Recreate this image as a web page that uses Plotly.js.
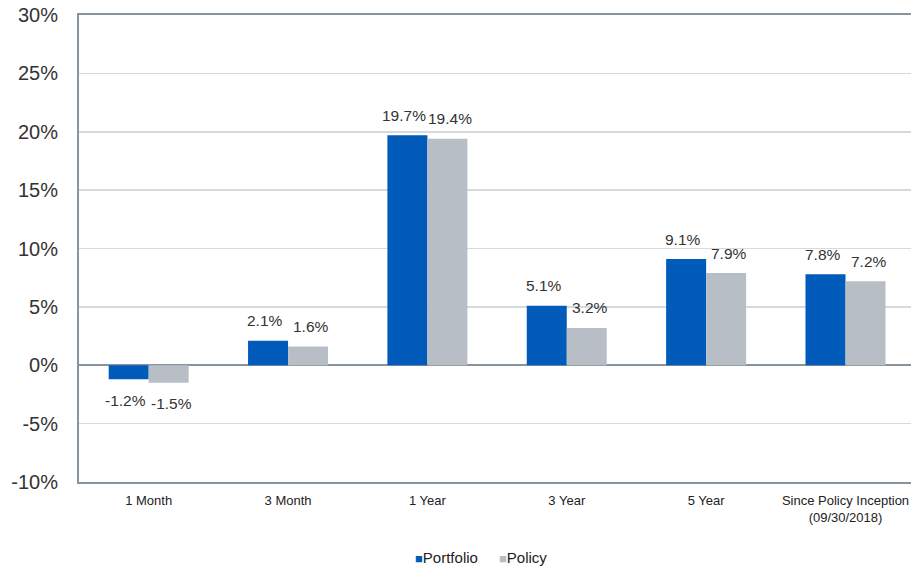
<!DOCTYPE html>
<html>
<head>
<meta charset="utf-8">
<script src="https://cdn.plot.ly/plotly-3.0.1.min.js"></script>
<style>html,body{margin:0;padding:0;background:#fff;}#chart{width:911px;height:569px;}</style>
</head>
<body>
<div id="chart"></div>
<script>
const categories = ["1 Month", "3 Month", "1 Year", "3 Year", "5 Year", "Since Policy Inception<br>(09/30/2018)"];
const seriesNames = ["Portfolio", "Policy"];
const portfolio = [-1.2, 2.1, 19.7, 5.1, 9.1, 7.8];
const policy = [-1.5, 1.6, 19.4, 3.2, 7.9, 7.2];
const yTickVals = [-10, -5, 0, 5, 10, 15, 20, 25, 30];
const yTickText = ["-10%", "-5%", "0%", "5%", "10%", "15%", "20%", "25%", "30%"];
const colors = ["#005BBB", "#B8BEC5"];

const seriesData = [portfolio, policy];
const traces = seriesData.map((vals, i) => ({
  type: "bar", name: seriesNames[i], x: categories, y: vals,
  marker: {color: colors[i]}, hoverinfo: "skip", showlegend: false
}));

// data labels as annotations above/below bar ends
const labelFont = {family: "Liberation Sans, Arial, sans-serif", size: 15.5, color: "#333333"};
const annotations = [];
seriesData.forEach((vals, i) => {
  vals.forEach((v, j) => {
    annotations.push({
      x: categories[j], y: v, xref: "x", yref: "y",
      text: v.toFixed(1) + "%", showarrow: false,
      font: labelFont, xanchor: "center", yanchor: "middle",
      xshift: (i === 0 ? -23 : 23), yshift: v >= 0 ? 20 : -21
    });
  });
});
// custom legend
const legendX = [0.401, 0.502];
seriesNames.forEach((n, i) => {
  annotations.push({
    xref: "paper", yref: "paper", x: legendX[i], y: -0.1606, xanchor: "left", yanchor: "middle",
    showarrow: false,
    text: '<span style="color:' + colors[i] + ';font-size:13px">■</span>' + n,
    font: {family: "Liberation Sans, Arial, sans-serif", size: 15, color: "#222"}
  });
});

const layout = {
  width: 911, height: 569,
  margin: {l: 79, r: 0, t: 15, b: 87},
  paper_bgcolor: "#fff", plot_bgcolor: "#fff",
  barmode: "group", bargap: 0.426, bargroupgap: 0,
  font: {family: "Liberation Sans, Arial, sans-serif", color: "#333333"},
  xaxis: {
    type: "category", range: [-0.5, 5.47],
    showline: true, mirror: true, linecolor: "#8A949C", linewidth: 2,
    showgrid: false, ticks: "", zeroline: false, ticklabelstandoff: 5,
    tickfont: {family: "Liberation Sans, Arial, sans-serif", size: 13, color: "#222"}
  },
  yaxis: {
    range: [-10, 30], tickvals: yTickVals, ticktext: yTickText,
    showline: true, mirror: true, linecolor: "#8A949C", linewidth: 2,
    showgrid: true, gridcolor: "#D6DADE", gridwidth: 1.5,
    zeroline: true, zerolinecolor: "#8A949C", zerolinewidth: 2,
    ticks: "", tickfont: {size: 20, color: "#333"}, ticklabelstandoff: 15, automargin: false
  },
  annotations: annotations,
  showlegend: false
};
Plotly.newPlot("chart", traces, layout, {displayModeBar: false, staticPlot: true});
</script>
</body>
</html>
